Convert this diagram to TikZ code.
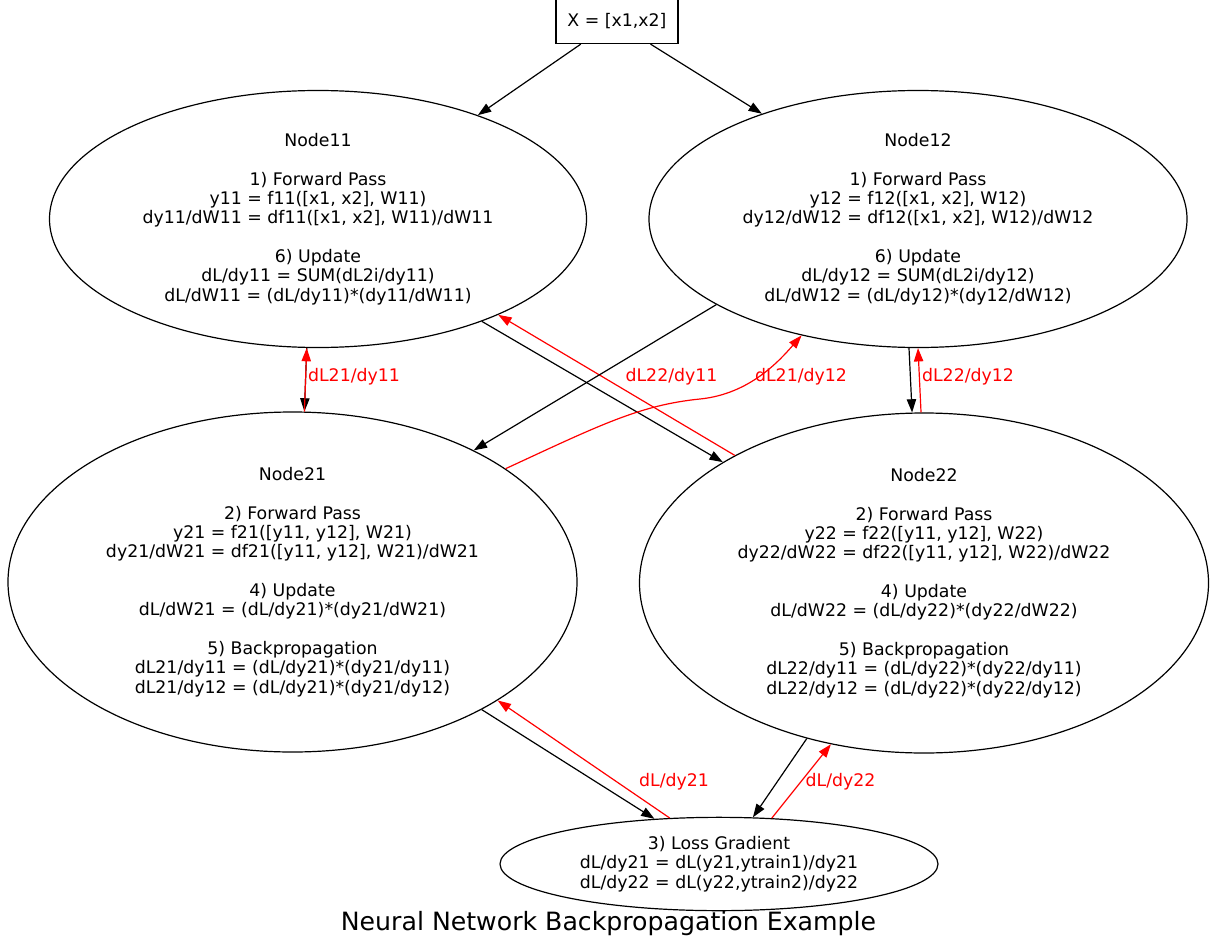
\documentclass[tikz,border=0pt]{standalone}
\usepackage{fontspec}
\setmainfont{DejaVu Sans}
\usetikzlibrary{arrows.meta,shapes.geometric}
\begin{document}
\begin{tikzpicture}[x=0.75pt,y=-0.75pt,
  every node/.style={font=\fontsize{13}{14.5}\selectfont},
  ell/.style={draw, ellipse, inner sep=0pt, align=center, line width=0.9pt},
  box/.style={draw, rectangle, inner sep=0pt, line width=0.9pt},
  fwd/.style={draw=black, line width=0.9pt, -{Triangle[length=10pt,width=7pt]}},
  bwd/.style={draw=red, line width=0.9pt, -{Triangle[length=10pt,width=7pt]}},
  lbl/.style={text=red, inner sep=0pt}]
\useasboundingbox[fill=white] (0,0) rectangle (1217,949);

\node[box, minimum width=91.5pt, minimum height=33pt] (x) at (617,21.5) {X = [x1,x2]};

\node[ell, minimum width=402.75pt, minimum height=192.75pt] (n11) at (318,219)
 {Node11\\[14.5pt]1) Forward Pass\\y11 = f11([x1, x2], W11)\\dy11/dW11 = df11([x1, x2], W11)/dW11\\[14.5pt]6) Update\\dL/dy11 = SUM(dL2i/dy11)\\dL/dW11 = (dL/dy11)*(dy11/dW11)};

\node[ell, minimum width=403.5pt, minimum height=192.75pt] (n12) at (918,219)
 {Node12\\[14.5pt]1) Forward Pass\\y12 = f12([x1, x2], W12)\\dy12/dW12 = df12([x1, x2], W12)/dW12\\[14.5pt]6) Update\\dL/dy12 = SUM(dL2i/dy12)\\dL/dW12 = (dL/dy12)*(dy12/dW12)};

\node[ell, minimum width=426.75pt, minimum height=255pt] (n21) at (292.5,582)
 {Node21\\[14.5pt]2) Forward Pass\\y21 = f21([y11, y12], W21)\\dy21/dW21 = df21([y11, y12], W21)/dW21\\[14.5pt]4) Update\\dL/dW21 = (dL/dy21)*(dy21/dW21)\\[14.5pt]5) Backpropagation\\dL21/dy11 = (dL/dy21)*(dy21/dy11)\\dL21/dy12 = (dL/dy21)*(dy21/dy12)};

\node[ell, minimum width=426.75pt, minimum height=255pt] (n22) at (924,583)
 {Node22\\[14.5pt]2) Forward Pass\\y22 = f22([y11, y12], W22)\\dy22/dW22 = df22([y11, y12], W22)/dW22\\[14.5pt]4) Update\\dL/dW22 = (dL/dy22)*(dy22/dW22)\\[14.5pt]5) Backpropagation\\dL22/dy11 = (dL/dy22)*(dy22/dy11)\\dL22/dy12 = (dL/dy22)*(dy22/dy12)};

\node[ell, minimum width=328.5pt, minimum height=70pt] (loss) at (719,864)
 {3) Loss Gradient\\dL/dy21 = dL(y21,ytrain1)/dy21\\dL/dy22 = dL(y22,ytrain2)/dy22};

\node[font=\fontsize{18.9}{22}\selectfont] (title) at (608.5,924) {Neural Network Backpropagation Example};

\draw[fwd] (x.212.9) -- (n11.33.5);
\draw[fwd] (x.326.3) -- (n12.146.9);
\draw[fwd] (n11.265.1) -- (n21.86.8);
\draw[bwd] (n21.86.1) -- (n11.265.6);
\draw[fwd] (n11.328.4) -- (n22.149.35);
\draw[bwd] (n22.146) -- (n11.332.1);
\draw[fwd] (n12.203.6) -- (n21.36.6);
\draw[bwd] (n21.28.9) .. controls (600,425) and (640,405) .. (700,399) .. controls (750,394) and (780,360) .. (n12.225.8);
\draw[fwd] (n12.266.5) -- (n22.94.7);
\draw[bwd] (n22.91.3) -- (n12.270.9);
\draw[fwd] (n21.326.5) -- (loss.145.5);
\draw[bwd] (loss.137.4) -- (n21.330.35);
\draw[fwd] (n22.233.8) -- (loss.54.3);
\draw[bwd] (loss.41.5) -- (n22.240.1);

\node[lbl] (l1) at (354,377) {dL21/dy11};
\node[lbl] (l2) at (671.5,377) {dL22/dy11};
\node[lbl] (l3) at (801,377) {dL21/dy12};
\node[lbl] (l4) at (968,377) {dL22/dy12};
\node[lbl] (l5) at (674,782) {dL/dy21};
\node[lbl] (l6) at (840.5,782) {dL/dy22};
\end{tikzpicture}
\end{document}
